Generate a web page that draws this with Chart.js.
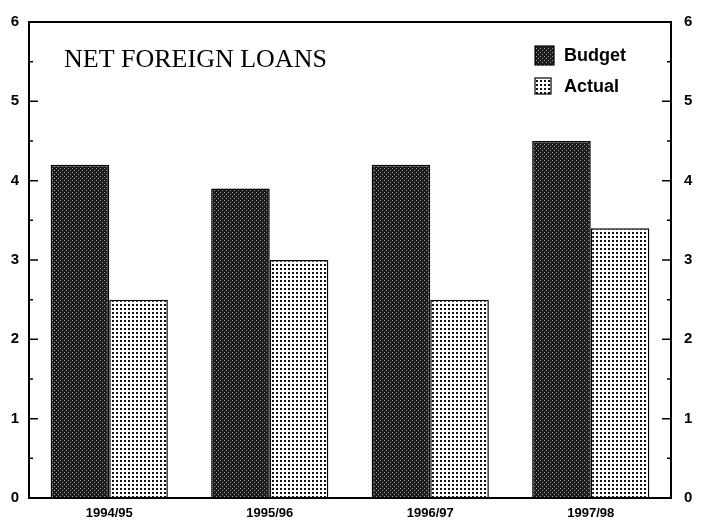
<!DOCTYPE html>
<html>
  <head>
    <title>Net Foreign Loans</title>
    <script src="https://cdn.jsdelivr.net/npm/chart.js"></script>
    <style>
      body { margin: 0; background: #fff; }
      #wrap { width: 710px; height: 527px; }
    </style>
  </head>

  <body>
    <div id="wrap"><canvas id="myChart" width="710" height="527"></canvas></div>

    <script>
      // values
      var years = ["1994/95", "1995/96", "1996/97", "1997/98"];
      var budget = [4.2, 3.9, 4.2, 4.5];
      var actual = [2.5, 3.0, 2.5, 3.4];
      var axisMin = 0;
      var axisMax = 6;

      // dotted fills like the scanned original
      function makePattern(bg, dot, size, dotSize, offset) {
        var c = document.createElement("canvas");
        c.width = size;
        c.height = size;
        var g = c.getContext("2d");
        g.fillStyle = bg;
        g.fillRect(0, 0, size, size);
        g.fillStyle = dot;
        g.fillRect(0, 0, dotSize, dotSize);
        if (offset) g.fillRect(size / 2, size / 2, dotSize, dotSize);
        return g.createPattern(c, "repeat");
      }
      var tmp = document.createElement("canvas").getContext("2d");
      var budgetFill = makePattern("#1c1c1c", "#9a9a9a", 4, 1, true);
      var actualFill = makePattern("#ffffff", "#111111", 4, 2, false);

      // title, legend, box and inward ticks
      var decor = {
        id: "decor",
        afterDraw: function (chart) {
          var ctx = chart.ctx;
          var a = chart.chartArea;
          var yl = chart.scales.y;
          ctx.save();
          ctx.strokeStyle = "#000";
          ctx.lineWidth = 2;
          ctx.strokeRect(a.left, a.top, a.right - a.left, a.bottom - a.top);

          ctx.lineWidth = 1.5;
          for (var v = axisMin; v <= axisMax; v += 0.5) {
            var py = yl.getPixelForValue(v);
            var len = v % 1 === 0 ? 9 : 4;
            ctx.beginPath();
            ctx.moveTo(a.left, py);
            ctx.lineTo(a.left + len, py);
            ctx.moveTo(a.right, py);
            ctx.lineTo(a.right - len, py);
            ctx.stroke();
          }

          ctx.fillStyle = "#000";
          ctx.font = "26px 'Liberation Serif', 'DejaVu Serif', serif";
          ctx.textBaseline = "alphabetic";
          ctx.fillText("NET FOREIGN LOANS", 64, 67);

          var ds = chart.data.datasets;
          var items = [
            { y: 46, h: 19, w: 19 },
            { y: 78, h: 16, w: 16 },
          ];
          ctx.font = "bold 18px 'Liberation Sans', Arial, sans-serif";
          ctx.textBaseline = "middle";
          for (var i = 0; i < ds.length; i++) {
            var it = items[i];
            ctx.fillStyle = ds[i].backgroundColor;
            ctx.fillRect(535, it.y, it.w, it.h);
            ctx.lineWidth = 1.2;
            ctx.strokeRect(535, it.y, it.w, it.h);
            ctx.fillStyle = "#000";
            ctx.fillText(ds[i].label, 564, it.y + it.h / 2 + 1);
          }
          ctx.restore();
        },
      };

      var ctx = document.getElementById("myChart").getContext("2d");
      var chart = new Chart(ctx, {
        type: "bar",
        data: {
          labels: years,
          datasets: [
            {
              label: "Budget",
              data: budget,
              backgroundColor: budgetFill,
              borderColor: "#000",
              borderWidth: 1.5,
              borderSkipped: "bottom",
            },
            {
              label: "Actual",
              data: actual,
              backgroundColor: actualFill,
              borderColor: "#000",
              borderWidth: 1.5,
              borderSkipped: "bottom",
            },
          ],
        },
        options: {
          responsive: false,
          animation: false,
          layout: { padding: { top: 22, left: 0, right: 0, bottom: 0 } },
          plugins: {
            legend: { display: false },
            tooltip: { enabled: false },
          },
          datasets: {
            bar: { categoryPercentage: 0.73, barPercentage: 1.0 },
          },
          scales: {
            x: {
              grid: { display: false, drawTicks: false },
              border: { display: false },
              ticks: {
                color: "#000",
                padding: 8,
                maxRotation: 0,
                font: { family: "'Liberation Sans Narrow', 'Liberation Sans', Arial", size: 13, weight: "bold" },
              },
              afterFit: function (s) { s.height = 29; },
            },
            y: {
              position: "left",
              min: axisMin,
              max: axisMax,
              grid: { display: false, drawTicks: false },
              border: { display: false },
              ticks: {
                stepSize: 1,
                color: "#000",
                padding: 10,
                font: { family: "'Liberation Sans', Arial", size: 15, weight: "bold" },
              },
              afterFit: function (s) { s.width = 29; },
            },
            y2: {
              position: "right",
              min: axisMin,
              max: axisMax,
              grid: { display: false, drawTicks: false },
              border: { display: false },
              ticks: {
                stepSize: 1,
                color: "#000",
                padding: 13,
                font: { family: "'Liberation Sans', Arial", size: 15, weight: "bold" },
              },
              afterFit: function (s) { s.width = 39; },
            },
          },
        },
        plugins: [decor],
      });
    </script>
  </body>
</html>
